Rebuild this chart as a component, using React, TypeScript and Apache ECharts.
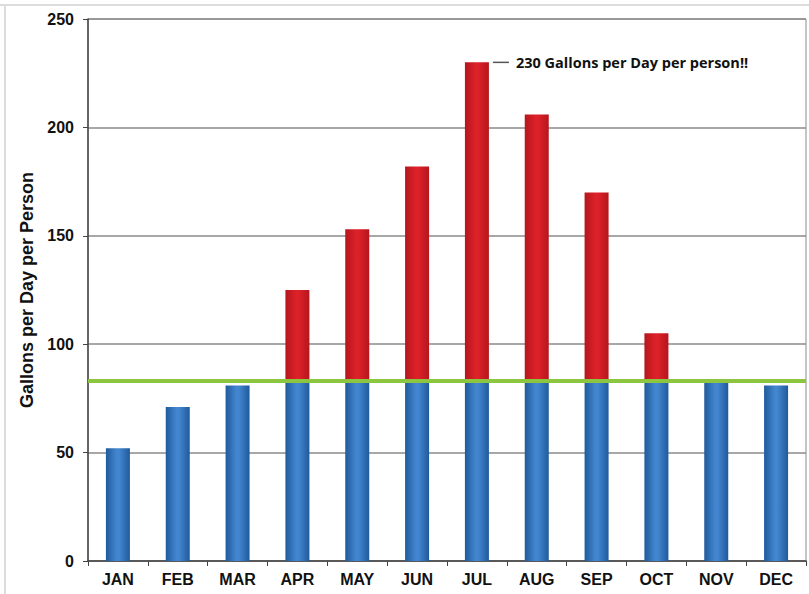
import React, { useEffect, useRef } from "react";
import * as echarts from "echarts";

const months = ["JAN", "FEB", "MAR", "APR", "MAY", "JUN", "JUL", "AUG", "SEP", "OCT", "NOV", "DEC"];
const usage = [52, 71, 81, 125, 153, 182, 230, 206, 170, 105, 83, 81];
const baseline = 83;
const yTicks = [0, 50, 100, 150, 200, 250];
const peakLabel = "230 Gallons per Day per person!!";
const peakMonth = "JUL";
const peakValue = 230;

export default function App() {
  const ref = useRef<HTMLDivElement>(null);
  useEffect(() => {
    if (!ref.current) return;
    const chart = echarts.init(ref.current, null, { renderer: "svg" });
    const blue = usage.map((v) => Math.min(v, baseline));
    const red = usage.map((v) => Math.max(v - baseline, 0));
    const blueGrad = new echarts.graphic.LinearGradient(0, 0, 1, 0, [
      { offset: 0, color: "#1f5a9c" },
      { offset: 0.45, color: "#4386cf" },
      { offset: 0.55, color: "#4386cf" },
      { offset: 1, color: "#1f5a9c" },
    ]);
    const redGrad = new echarts.graphic.LinearGradient(0, 0, 1, 0, [
      { offset: 0, color: "#b5161d" },
      { offset: 0.45, color: "#dc2129" },
      { offset: 0.55, color: "#dc2129" },
      { offset: 1, color: "#b5161d" },
    ]);
    chart.setOption({
      animation: false,
      backgroundColor: "#ffffff",
      grid: {
        left: 88,
        right: 3,
        top: 19,
        bottom: 33,
        show: true,
        borderColor: "#8a8a8a",
        borderWidth: 1,
      },
      graphic: [
        { type: "line", shape: { x1: 0, y1: 5, x2: 809, y2: 5 }, style: { stroke: "#dcdcdc", lineWidth: 2 } },
        { type: "line", shape: { x1: 5, y1: 5, x2: 5, y2: 594 }, style: { stroke: "#dcdcdc", lineWidth: 2 } },
      ],
      xAxis: {
        type: "category",
        data: months,
        axisLine: { lineStyle: { color: "#444", width: 1.5 } },
        axisTick: { show: true, length: 5, lineStyle: { color: "#444" } },
        axisLabel: {
          color: "#111",
          fontFamily: "Liberation Sans",
          fontWeight: "bold",
          fontSize: 16,
          margin: 10,
        },
      },
      yAxis: {
        type: "value",
        min: yTicks[0],
        max: yTicks[yTicks.length - 1],
        interval: 50,
        name: "Gallons per Day per Person",
        nameLocation: "middle",
        nameGap: 44,
        nameTextStyle: {
          color: "#111",
          fontFamily: "Liberation Sans",
          fontWeight: "bold",
          fontSize: 18,
        },
        axisLine: { show: true, lineStyle: { color: "#444", width: 1.5 } },
        axisTick: { show: true, length: 5, lineStyle: { color: "#444" } },
        axisLabel: {
          color: "#111",
          fontFamily: "Liberation Sans",
          fontWeight: "bold",
          fontSize: 16,
          margin: 14,
        },
        splitLine: { lineStyle: { color: "#8a8a8a", width: 1.5 } },
      },
      series: [
        {
          type: "bar",
          stack: "u",
          data: blue,
          barWidth: 24,
          itemStyle: { color: blueGrad },
          markLine: {
            silent: true,
            symbol: "none",
            label: { show: false },
            lineStyle: { color: "#8cc540", width: 4, type: "solid" },
            data: [{ yAxis: baseline }],
            z: 10,
          },
        },
        {
          type: "bar",
          stack: "u",
          data: red,
          barWidth: 24,
          itemStyle: { color: redGrad },
          markPoint: {
            silent: true,
            symbol: "rect",
            symbolSize: [16, 1.5],
            symbolOffset: [24, 0],
            itemStyle: { color: "#555" },
            label: {
              show: true,
              position: "right",
              distance: 7,
              formatter: peakLabel,
              color: "#111",
              fontFamily: "Open Sans",
              fontWeight: "bold",
              fontSize: 14.5,
            },
            data: [{ coord: [peakMonth, peakValue] }],
          },
        },
      ],
    });
    return () => chart.dispose();
  }, []);
  return (
    <div
      ref={ref}
      style={{ position: "fixed", left: 0, top: 0, width: 809, height: 594 }}
    />
  );
}
